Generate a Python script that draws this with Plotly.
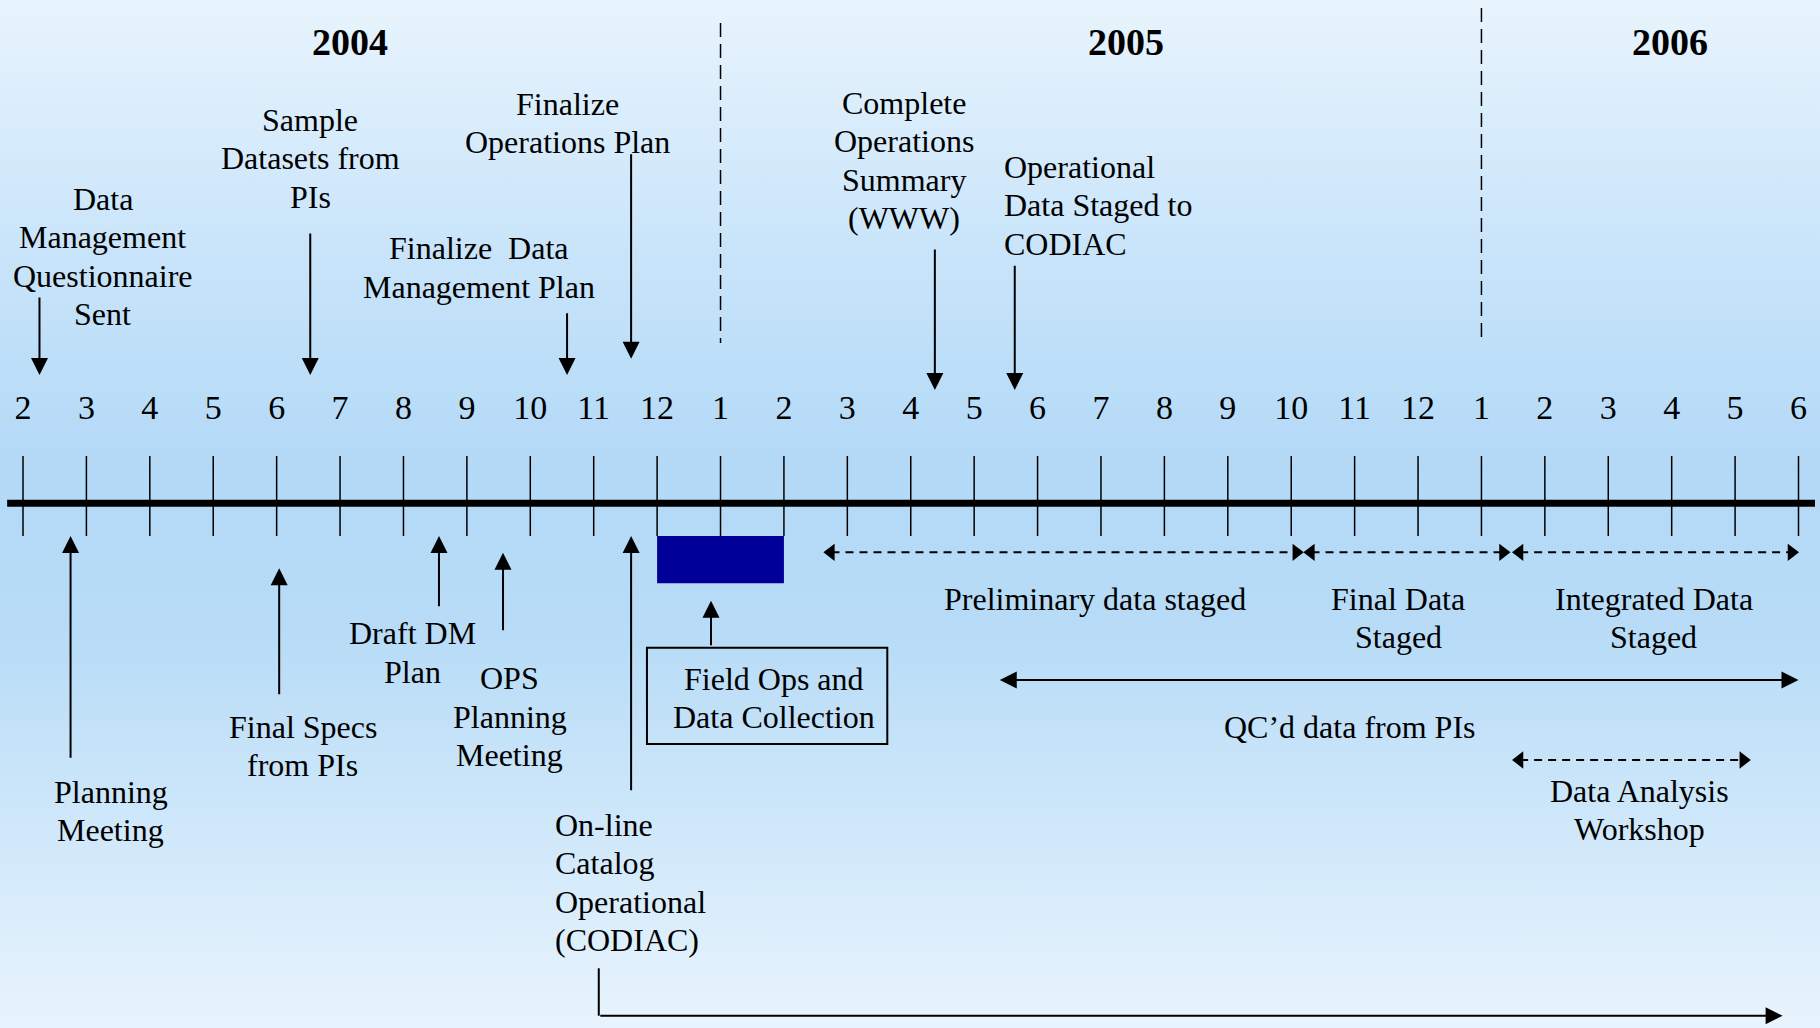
import base64
import plotly.graph_objects as go

# ---------------- data ----------------
# month ticks: Feb 2004 .. Jun 2006 (index 0 = Feb 2004)
month_labels = ["2", "3", "4", "5", "6", "7", "8", "9", "10", "11", "12",
                "1", "2", "3", "4", "5", "6", "7", "8", "9", "10", "11", "12",
                "1", "2", "3", "4", "5", "6"]
year_labels = ["2004", "2005", "2006"]
year_label_month = [5.16, 17.40, 25.97]
year_start_month = [11, 23]          # January 2005, January 2006

# milestones above the time line (arrow points down)
top_labels = [
    ["Data", "Management", "Questionnaire", "Sent"],
    ["Sample", "Datasets from", "PIs"],
    ["Finalize\u00a0 Data", "Management Plan"],
    ["Finalize", "Operations Plan"],
    ["Complete", "Operations", "Summary", "(WWW)"],
    ["Operational", "Data Staged to", "CODIAC"],
]
top_dates = [0.26, 4.53, 8.58, 9.59, 14.38, 15.64]
top_text_month = [1.26, 4.53, 7.19, 8.58, 13.89, 15.44]

# milestones below the time line (arrow points up)
bottom_labels = [
    ["Planning", "Meeting"],
    ["Final Specs", "from PIs"],
    ["Draft DM", "Plan"],
    ["OPS", "Planning", "Meeting"],
    ["On-line", "Catalog", "Operational", "(CODIAC)"],
]
bottom_dates = [0.75, 4.04, 6.56, 7.57, 9.59]
bottom_text_month = [1.38, 4.41, 6.15, 7.68, 8.36]

# field campaign (Dec 2004 - Feb 2005)
field_start, field_end = 10, 12
field_label = ["Field Ops and", "Data Collection"]

# periods
period_labels = [["Preliminary data staged"], ["Final Data", "Staged"], ["Integrated Data", "Staged"]]
period_start = [12.63, 20.20, 23.49]
period_end = [20.19, 23.45, 28.00]
period_text_month = [16.90, 21.69, 25.72]

qc_label = ["QC\u2019d data from PIs"]
qc_start, qc_end, qc_text_month = 15.38, 28.00, 20.93

workshop_label = ["Data Analysis", "Workshop"]
workshop_start, workshop_end, workshop_text_month = 23.49, 27.24, 25.49

online_elbow_month = 9.08
online_end_month = 27.75

# ---------------- layout constants (pixels from the top) ----------------
W, H = 1820, 1028
FONT = "Liberation Serif, Times New Roman, serif"
TEXT_SIZE = 32
LINE_H = 38.4
AXIS_Y = 503.3
TICK_TOP, TICK_BOT = 456, 536
MONTH_Y = 410

top_text_y = [199, 120, 248.3, 104, 103, 166.7]
top_arrow_from = [296, 232, 311.7, 152.7, 248, 264.3]
top_arrow_to = [375, 375, 375, 358.7, 390, 390]
top_anchor = ["center", "center", "center", "center", "center", "left"]

bottom_text_y = [791.6, 726.7, 633.3, 678.3, 825]
bottom_arrow_tip = [536, 568.3, 536, 552.7, 536]
bottom_arrow_tail = [759.3, 695.7, 607.7, 631.7, 791.7]
bottom_anchor = ["center", "center", "center", "center", "left"]

fig = go.Figure()

# background gradient
svg = f'''<svg xmlns="http://www.w3.org/2000/svg" width="{W}" height="{H}" viewBox="0 0 {W} {H}" preserveAspectRatio="none">
<defs><linearGradient id="g" x1="0" y1="0" x2="0" y2="1">
<stop offset="0" stop-color="#E8F4FD"/>
<stop offset="0.25" stop-color="#C8E4FA"/>
<stop offset="0.45" stop-color="#B3D9F7"/>
<stop offset="0.62" stop-color="#B8DCF7"/>
<stop offset="1" stop-color="#E8F4FD"/>
</linearGradient></defs>
<rect x="0" y="0" width="{W}" height="{H}" fill="url(#g)"/></svg>'''
src = "data:image/svg+xml;base64," + base64.b64encode(svg.encode()).decode()
fig.add_layout_image(source=src, xref="paper", yref="paper", x=0, y=1,
                     sizex=1, sizey=1, xanchor="left", yanchor="top",
                     sizing="stretch", layer="below")


def add_lines(lines, x, y0, anchor="center", size=TEXT_SIZE, bold=False):
    for i, t in enumerate(lines):
        txt = f"<b>{t}</b>" if bold else t
        fig.add_annotation(x=x, y=y0 + i * LINE_H, xref="x", yref="y", text=txt,
                           showarrow=False, xanchor=anchor, yanchor="middle",
                           font=dict(family=FONT, size=size, color="black"))


def add_arrow(x, y_tip, ax, ay_tail, both=False):
    fig.add_annotation(x=x, y=y_tip, ax=ax, ay=ay_tail, xref="x", yref="y",
                       axref="x", ayref="y", text="", showarrow=True,
                       arrowhead=2, arrowsize=1.7, arrowwidth=2,
                       startarrowhead=2, startarrowsize=1.7,
                       arrowcolor="black", standoff=0,
                       arrowside="end+start" if both else "end")


def add_dashed_double(x0, x1, y):
    fig.add_trace(go.Scatter(x=[x0 + 0.12, x1 - 0.12], y=[y, y], mode="lines",
                             line=dict(color="black", width=2, dash="8px,6px"),
                             hoverinfo="skip", showlegend=False))
    fig.add_trace(go.Scatter(x=[x0 + 0.11, x1 - 0.11], y=[y, y], mode="markers",
                             marker=dict(symbol=["triangle-left", "triangle-right"],
                                         size=15, color="black", line=dict(width=0)),
                             hoverinfo="skip", showlegend=False))


n = len(month_labels)

# main time line
fig.add_shape(type="line", x0=-0.25, x1=n - 1 + 0.26, y0=AXIS_Y, y1=AXIS_Y,
              line=dict(color="black", width=7))

# month ticks
tx, ty = [], []
for i in range(n):
    tx += [i, i, None]
    ty += [TICK_TOP, TICK_BOT, None]
fig.add_trace(go.Scatter(x=tx, y=ty, mode="lines", line=dict(color="black", width=1.5),
                         hoverinfo="skip", showlegend=False))

# month labels
fig.add_trace(go.Scatter(x=list(range(n)), y=[MONTH_Y] * n, mode="text", text=month_labels,
                         textposition="middle center",
                         textfont=dict(family=FONT, size=34, color="black"),
                         hoverinfo="skip", showlegend=False))

# year separators and labels
for m, y_top in zip(year_start_month, [23, 8]):
    fig.add_shape(type="line", x0=m, x1=m, y0=y_top, y1=343,
                  line=dict(color="black", width=1.5, dash="14px,7px"))
for lab, m in zip(year_labels, year_label_month):
    add_lines([lab], m, 41.7, size=38, bold=True)

# top milestones
for lab, d, tm, ty0, a0, a1, anc in zip(top_labels, top_dates, top_text_month, top_text_y,
                                          top_arrow_from, top_arrow_to, top_anchor):
    add_lines(lab, tm, ty0, anchor=anc)
    add_arrow(d, a1, d, a0)

# bottom milestones
for lab, d, tm, ty0, tip, tail, anc in zip(bottom_labels, bottom_dates, bottom_text_month,
                                             bottom_text_y, bottom_arrow_tip, bottom_arrow_tail,
                                             bottom_anchor):
    add_lines(lab, tm, ty0, anchor=anc)
    add_arrow(d, tip, d, tail)

# field ops block and callout box
fig.add_shape(type="rect", x0=field_start, x1=field_end, y0=536, y1=583.3,
              fillcolor="#000099", line=dict(width=0))
add_arrow(10.85, 600.7, 10.85, 646.7)
fig.add_shape(type="rect", x0=9.84, x1=13.63, y0=647.7, y1=744,
              line=dict(color="black", width=2), fillcolor="rgba(0,0,0,0)")
add_lines(field_label, 11.85, 679)

# data staging periods
for lab, s, e, tm in zip(period_labels, period_start, period_end, period_text_month):
    add_dashed_double(s, e, 552.3)
    add_lines(lab, tm, 599)

# QC'd data
add_arrow(qc_end, 680, qc_start, 680, both=True)
add_lines(qc_label, qc_text_month, 726.7)

# workshop
add_dashed_double(workshop_start, workshop_end, 760)
add_lines(workshop_label, workshop_text_month, 790.7)

# on-line catalog elbow arrow
fig.add_shape(type="line", x0=online_elbow_month, x1=online_elbow_month, y0=968.3, y1=1015.7,
              line=dict(color="black", width=2))
add_arrow(online_end_month, 1015.7, online_elbow_month, 1015.7)

fig.update_layout(
    width=W, height=H, margin=dict(l=0, r=0, t=0, b=0),
    paper_bgcolor="#C8E4FA", plot_bgcolor="rgba(0,0,0,0)",
    xaxis=dict(range=[-0.3627, 28.339], visible=False, fixedrange=True),
    yaxis=dict(range=[H, 0], visible=False, fixedrange=True),
    showlegend=False,
)

fig.write_html("out.html", config={"displayModeBar": False},
               post_script="document.body.style.margin='0';document.body.style.overflow='hidden';")
